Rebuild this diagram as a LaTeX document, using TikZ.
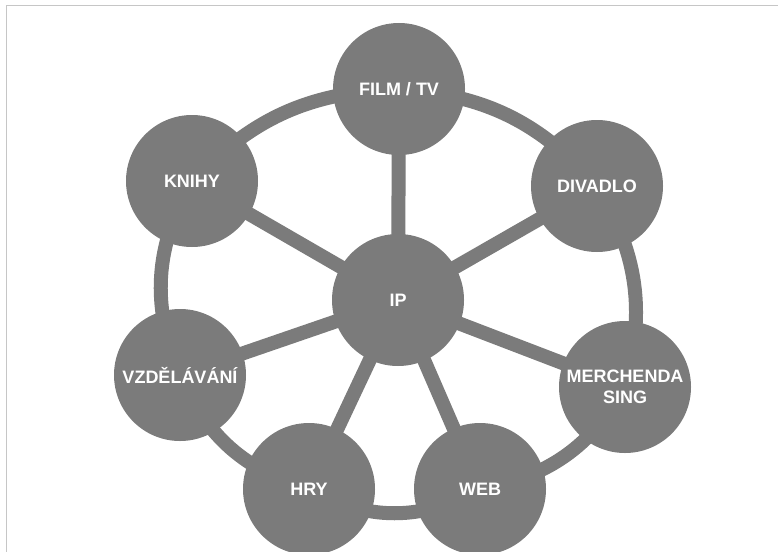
\documentclass[tikz,border=0pt]{standalone}
\usepackage{fontspec}
\setmainfont{Liberation Sans}
\usetikzlibrary{backgrounds}
\definecolor{kruh}{RGB}{123,123,123}
\definecolor{ramec}{RGB}{198,198,198}

\begin{document}
\begin{tikzpicture}[x=1pt, y=-1pt,
  uzel/.style={circle, fill=kruh, minimum size=132pt, inner sep=0pt, text=white,
    font=\fontsize{18}{21}\selectfont\bfseries, align=center},
  spoj/.style={draw=kruh, line width=14pt}]
  \useasboundingbox (0,0) rectangle (778,551);
  \clip (0,0) rectangle (778,551);

  % ---- ramecek ----
  \draw[ramec, line width=1pt] (6.3,800) -- (6.3,5.3) -- (800,5.3);

  % ---- stred ----
  \node[uzel] (ip) at (398,300) {IP};

  % ---- okolni uzly ----
  \node[uzel] (film)     at (399,89)  {FILM / TV};
  \node[uzel] (divadlo)  at (597,186) {DIVADLO};
  \node[uzel] (merch)    at (625,387) {MERCHENDA\\SING};
  \node[uzel] (web)      at (480,489) {WEB};
  \node[uzel] (hry)      at (309,489) {HRY};
  \node[uzel] (vzdelani) at (180,375) {VZDĚLÁVÁNÍ};
  \node[uzel] (knihy)    at (192,181) {KNIHY};

  % ---- spoje (pod uzly) ----
  \begin{scope}[on background layer]
    % paprsky od IP
    \foreach \u in {film,divadlo,merch,web,hry,vzdelani,knihy}
      \draw[spoj] (ip.center) -- (\u.center);
    % vnejsi kruh
    \draw[spoj] (film.center)     to[bend left=22] (divadlo.center);
    \draw[spoj] (divadlo.center)  to[bend left=23] (merch.center);
    \draw[spoj] (merch.center)    to[bend left=25] (web.center);
    \draw[spoj] (web.center)      to[bend left=29] (hry.center);
    \draw[spoj] (hry.center)      to[bend left=25] (vzdelani.center);
    \draw[spoj] (vzdelani.center) to[bend left=26] (knihy.center);
    \draw[spoj] (knihy.center)    to[bend left=22] (film.center);
  \end{scope}
\end{tikzpicture}
\end{document}
